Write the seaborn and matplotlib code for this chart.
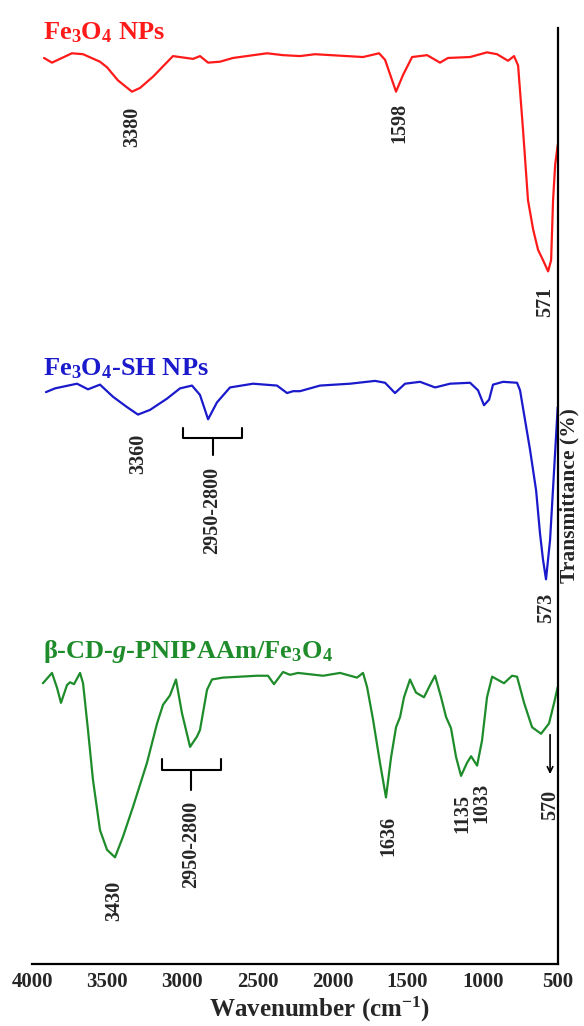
import matplotlib.pyplot as plt
import seaborn as sns
import numpy as np

# FT-IR spectra (offset transmittance, arbitrary units 0-100)
fe3o4_wn = [3922, 3869, 3736, 3662, 3549, 3502, 3429, 3336, 3282, 3196, 3063, 2929,
            2883, 2829, 2750, 2663, 2436, 2330, 2217, 2117, 1797, 1690, 1650, 1577,
            1530, 1470, 1370, 1284, 1231, 1084, 971, 904, 831, 791, 764, 731, 698,
            664, 631, 598, 564, 544, 531, 517, 500]
fe3o4_t = [96.8, 96.3, 97.3, 97.2, 96.4, 95.8, 94.4, 93.2, 93.6, 94.8, 97.0, 96.7,
           97.0, 96.3, 96.4, 96.8, 97.3, 97.1, 97.0, 97.2, 96.9, 97.3, 96.6, 93.2,
           95.0, 96.9, 97.1, 96.3, 96.8, 96.9, 97.4, 97.2, 96.5, 97.0, 96.0, 89.1,
           81.6, 78.5, 76.3, 75.2, 74.0, 75.2, 81.6, 85.4, 87.5]

sh_wn = [3909, 3849, 3702, 3629, 3549, 3462, 3369, 3296, 3216, 3103, 3016, 2936,
         2883, 2829, 2770, 2683, 2530, 2370, 2303, 2263, 2217, 2083, 1883, 1717,
         1650, 1584, 1517, 1417, 1317, 1217, 1084, 1031, 991, 957, 931, 864, 771,
         751, 684, 644, 618, 598, 578, 551, 524, 500]
sh_t = [61.1, 61.5, 62.0, 61.4, 61.9, 60.6, 59.5, 58.7, 59.2, 60.4, 61.5, 61.8,
        60.8, 58.2, 60.0, 61.6, 62.0, 61.8, 61.0, 61.2, 61.2, 61.8, 62.0, 62.3,
        62.1, 61.0, 62.0, 62.2, 61.6, 62.0, 62.1, 61.3, 59.7, 60.3, 61.9, 62.2,
        62.1, 61.3, 54.9, 50.6, 46.0, 43.2, 41.1, 45.3, 52.8, 59.5]

cd_wn = [3929, 3869, 3835, 3809, 3769, 3749, 3722, 3682, 3662, 3629, 3596, 3549,
         3502, 3449, 3396, 3329, 3236, 3169, 3129, 3083, 3043, 3003, 2949, 2903,
         2883, 2836, 2803, 2730, 2503, 2430, 2390, 2330, 2283, 2230, 2063, 1950,
         1837, 1797, 1770, 1730, 1684, 1644, 1610, 1577, 1550, 1524, 1484, 1444,
         1391, 1344, 1317, 1277, 1244, 1211, 1177, 1144, 1104, 1077, 1037, 1004,
         971, 937, 858, 804, 771, 724, 671, 611, 558, 524, 500]
cd_t = [30.0, 31.1, 29.5, 27.9, 29.8, 30.1, 29.9, 31.1, 30.0, 25.0, 19.7, 14.3,
        12.2, 11.4, 13.6, 16.8, 21.5, 25.7, 27.7, 28.7, 30.4, 26.8, 23.2, 24.3,
        25.0, 29.3, 30.4, 30.6, 30.8, 30.8, 29.9, 31.2, 30.9, 31.1, 30.8, 31.1,
        30.6, 31.1, 29.6, 26.1, 21.5, 17.8, 22.1, 25.3, 26.4, 28.5, 30.4, 29.0,
        28.5, 30.0, 30.8, 28.5, 26.4, 25.2, 22.1, 20.1, 21.5, 22.2, 21.2, 23.9,
        28.5, 30.7, 30.0, 30.8, 30.7, 27.9, 25.3, 24.6, 25.7, 27.9, 29.6]

# peak labels: (text, x position, top of text)
fe3o4_peaks = ['3380', '1598', '571']
fe3o4_peak_x = [3336, 1558, 585]
fe3o4_peak_y = [91.6, 92.0, 72.3]
sh_peaks = ['3360', '573']
sh_peak_x = [3296, 578]
sh_peak_y = [56.7, 39.7]
cd_peaks = ['3430', '1636', '1135', '1033', '570']
cd_peak_x = [3455, 1630, 1137, 1010, 551]
cd_peak_y = [8.9, 15.8, 18.2, 19.4, 18.6]

sns.set_style('white')
plt.rcParams['font.family'] = ['Liberation Serif', 'DejaVu Serif']
plt.rcParams['font.weight'] = 'bold'
plt.rcParams['mathtext.fontset'] = 'custom'
plt.rcParams['mathtext.rm'] = 'Liberation Serif:bold'
plt.rcParams['mathtext.bf'] = 'Liberation Serif:bold'
plt.rcParams['mathtext.it'] = 'Liberation Serif:italic:bold'

fig = plt.figure(figsize=(5.84, 10.26), dpi=100)
ax = fig.add_axes([0.0553, 0.0604, 0.8997, 0.9123])

red, blue, green = '#ff1a1a', '#1a1acc', '#1e8c2a'
sns.lineplot(x=fe3o4_wn, y=fe3o4_t, sort=False, estimator=None, color=red, lw=1.6, ax=ax)
sns.lineplot(x=sh_wn, y=sh_t, sort=False, estimator=None, color=blue, lw=1.6, ax=ax)
sns.lineplot(x=cd_wn, y=cd_t, sort=False, estimator=None, color=green, lw=1.6, ax=ax)

ax.set_xlim(4000, 500)
ax.set_ylim(0, 100)
ax.set_xticks([4000, 3500, 3000, 2500, 2000, 1500, 1000, 500])
ax.set_yticks([])
for s in ['top', 'left']:
    ax.spines[s].set_visible(False)
for s in ['bottom', 'right']:
    ax.spines[s].set_linewidth(1.6)
    ax.spines[s].set_color('black')
ax.tick_params(axis='x', direction='in', length=6, width=1.6, labelsize=15, pad=6)
for lb in ax.get_xticklabels():
    lb.set_fontweight('bold')

ax.set_xlabel('Wavenumber (cm$^{-1}$)', fontsize=18, fontweight='bold')
ax.xaxis.set_label_coords(0.547, -0.033)
ax.set_ylabel('')
ax.text(1.023, 0.5, 'Transmittance (%)', transform=ax.transAxes, rotation=90,
        ha='center', va='center', fontsize=15.5, fontweight='bold')

# sample names
ax.text(3929, 98.8, 'Fe$_3$O$_4$ NPs', color=red, fontsize=19, fontweight='bold', va='baseline')
ax.text(3929, 62.9, 'Fe$_3$O$_4$-SH NPs', color=blue, fontsize=19, fontweight='bold', va='baseline')
ax.text(3929, 32.7, 'β-CD-$g$-PNIPAAm/Fe$_3$O$_4$', color=green, fontsize=19,
        fontweight='bold', va='baseline')

for labels, xs, ys in [(fe3o4_peaks, fe3o4_peak_x, fe3o4_peak_y),
                       (sh_peaks, sh_peak_x, sh_peak_y),
                       (cd_peaks, cd_peak_x, cd_peak_y)]:
    for lab, x, y in zip(labels, xs, ys):
        ax.text(x, y, lab, rotation=90, ha='center', va='top', fontsize=14.5, fontweight='bold')

# brackets for the 2950-2800 region
def bracket(x0, x1, ytop, ymid, ystem, ytext):
    xc = (x0 + x1) / 2
    ax.plot([x0, x0, x1, x1], [ytop, ymid, ymid, ytop], color='black', lw=1.5)
    ax.plot([xc, xc], [ymid, ystem], color='black', lw=1.5)
    ax.text(xc, ytext, '2950-2800', rotation=90, ha='center', va='top', fontsize=14.5, fontweight='bold')

bracket(2996, 2603, 57.3, 56.2, 54.4, 53.1)
bracket(3136, 2743, 21.9, 20.7, 18.6, 17.4)

ax.annotate('', xy=(551, 20.0), xytext=(551, 24.8),
            arrowprops=dict(arrowstyle='->', color='black', lw=1.2))

plt.savefig('out.png', dpi=100)
